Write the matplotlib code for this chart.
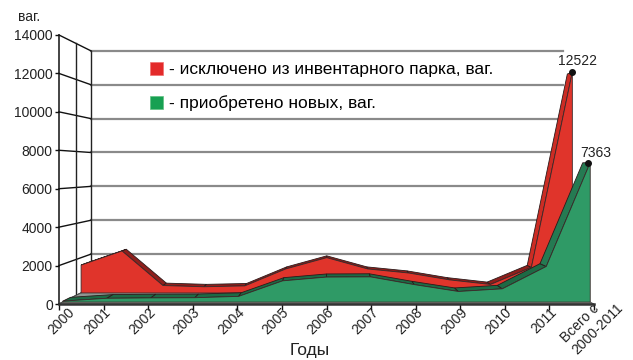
import matplotlib
matplotlib.use('Agg')
import matplotlib.pyplot as plt
from matplotlib.patches import Polygon, Patch
from matplotlib.transforms import ScaledTranslation
import numpy as np

plt.rcParams['font.family'] = ['Liberation Sans', 'DejaVu Sans']

# ---------------- data ----------------
categories = ['2000', '2001', '2002', '2003', '2004', '2005', '2006',
              '2007', '2008', '2009', '2010', '2011', 'Всего с\n2000-2011']
excluded = [1580, 2380, 420, 350, 400, 1360, 2000, 1360, 1130, 740, 480, 1450, 12522]
acquired = [50, 200, 220, 230, 300, 1120, 1320, 1330, 920, 560, 700, 1880, 7363]
y_ticks = [0, 2000, 4000, 6000, 8000, 10000, 12000, 14000]
legend_labels = ['- исключено из инвентарного парка, ваг.', '- приобретено новых, ваг.']
unit_label = 'ваг.'
x_label = 'Годы'

# ---------------- style ----------------
RED_FACE, RED_TOP, RED_SIDE = '#e0342b', '#8e1f1c', '#cc2c24'
GREEN_FACE, GREEN_TOP, GREEN_SIDE = '#2f9a66', '#1d6a45', '#257a52'
LEG_RED, LEG_GREEN = '#e32a2a', '#17a052'

# pseudo-3D perspective (depth d: 0 = front, 1 = back wall)
VP_X, VP_Y = 6.06, 7030.0
SHRINK = 0.1185


def proj(i, v, d):
    k = 1.0 - SHRINK * d
    return VP_X + (np.asarray(i, float) - VP_X) * k, VP_Y + (np.asarray(v, float) - VP_Y) * k


W, H = 633, 360
fig = plt.figure(figsize=(W / 100, H / 100), dpi=100)
ax = fig.add_axes([59 / W, 56 / H, 535 / W, 269 / H])
n = len(categories)
ax.set_xlim(0, n - 1)
ax.set_ylim(0, y_ticks[-1])
ax.patch.set_alpha(0)
for s in ('top', 'right'):
    ax.spines[s].set_visible(False)
ax.spines['left'].set_color('#111111')
ax.spines['left'].set_linewidth(1.1)
ax.spines['bottom'].set_color('#333333')
ax.spines['bottom'].set_linewidth(1.8)
ax.spines['left'].set_zorder(20)
ax.spines['bottom'].set_zorder(20)

# back wall grid
for v in y_ticks:
    x0, y0 = proj(0, v, 1)
    x1, y1 = proj(n - 1, v, 1)
    ax.plot([x0, x1], [y0, y1], color='#8a8a8a', lw=1.6, zorder=1, clip_on=False)
    fx, fy = proj(0, v, 0)
    ax.plot([fx, x0], [fy, y0], color='#111111', lw=1.0, zorder=2, clip_on=False)
for dd in (0.53, 1.0):
    x0, y0 = proj(0, 0, dd)
    x1, y1 = proj(0, y_ticks[-1], dd)
    ax.plot([x0, x1], [y0, y1], color='#222222', lw=1.0, zorder=2, clip_on=False)

# floor
corners = [proj(0, 0, 0), proj(n - 1, 0, 0), proj(n - 1, 0, 1), proj(0, 0, 1)]
ax.add_patch(Polygon([(float(a), float(b)) for a, b in corners], closed=True,
                     facecolor='#8f9691', edgecolor='#555555', lw=0.6, zorder=3, clip_on=False))

X_PX = 535 / (n - 1)
Y_PX = 269 / y_ticks[-1]


def draw_ribbon(values, d_front, d_back, face, top, side, z):
    idx = np.arange(len(values))
    vals = np.asarray(values, float)
    fx, fy = proj(idx, vals, d_front)
    bx, by = proj(idx, vals, d_back)
    for k in range(len(vals) - 1):
        quad = [(fx[k], fy[k]), (fx[k + 1], fy[k + 1]), (bx[k + 1], by[k + 1]), (bx[k], by[k])]
        steep = abs((fy[k + 1] - fy[k]) * Y_PX) > 2.0 * abs((fx[k + 1] - fx[k]) * X_PX)
        ax.add_patch(Polygon(quad, closed=True, facecolor=side if steep else top,
                             edgecolor='#2a1a1a', lw=0.6, zorder=z, clip_on=False))
    zx, zy = proj(idx, np.zeros(len(vals)), d_front)
    poly = list(zip(fx, fy)) + list(zip(zx[::-1], zy[::-1]))
    ax.add_patch(Polygon(poly, closed=True, facecolor=face, edgecolor='#3a2a2a',
                         lw=0.6, zorder=z + 0.5, clip_on=False))
    return fx, fy, bx, by


rfx, rfy, rbx, rby = draw_ribbon(excluded, 0.69, 0.85, RED_FACE, RED_TOP, RED_SIDE, 5)
gfx, gfy, gbx, gby = draw_ribbon(acquired, 0.12, 0.36, GREEN_FACE, GREEN_TOP, GREEN_SIDE, 8)

# peak markers and labels
ax.plot([rfx[-1]], [rfy[-1]], 'o', color='#111111', ms=4, zorder=12, clip_on=False)
ax.plot([gfx[-1] - 0.05], [gfy[-1]], 'o', color='#111111', ms=4, zorder=12, clip_on=False)
ax.annotate(str(excluded[-1]), (rfx[-1], rfy[-1]), xytext=(4, 3), textcoords='offset points',
            ha='center', va='bottom', fontsize=10, color='#222222', zorder=13, annotation_clip=False)
ax.annotate(str(acquired[-1]), (gfx[-1], gfy[-1]), xytext=(4, 2), textcoords='offset points',
            ha='center', va='bottom', fontsize=10, color='#222222', zorder=13, annotation_clip=False)

# ticks
ax.set_yticks(y_ticks)
ax.set_yticklabels([str(v) for v in y_ticks], fontsize=10, color='#222222')
ax.tick_params(axis='y', length=3, width=1, pad=1.5, color='#111111')
ax.set_xticks(np.arange(n))
ax.set_xticklabels(categories, fontsize=10, color='#222222', rotation=45,
                   ha='right', va='center', rotation_mode='anchor', multialignment='left')
ax.tick_params(axis='x', length=4, width=1, pad=1, color='#111111')
shift = ScaledTranslation(5 / 100, 1 / 100, fig.dpi_scale_trans)
for k, lab in enumerate(ax.get_xticklabels()):
    if k == 0:
        extra = ScaledTranslation(8 / 100, 0, fig.dpi_scale_trans)
    elif k == n - 1:
        extra = ScaledTranslation(16 / 100, 10 / 100, fig.dpi_scale_trans)
    else:
        extra = ScaledTranslation(0, 0, fig.dpi_scale_trans)
    lab.set_transform(lab.get_transform() + shift + extra)

fig.text(310 / W, 1 - 350 / H, x_label, fontsize=12.5, color='#222222', va='center', ha='center')
fig.text(18 / W, 1 - 17 / H, unit_label, fontsize=10, color='#222222', va='center', ha='left')

handles = [Patch(facecolor=LEG_RED, edgecolor='#f07070', lw=0.5),
           Patch(facecolor=LEG_GREEN, edgecolor='#60c080', lw=0.5)]
fig.legend(handles, legend_labels, loc='upper left', bbox_to_anchor=(150 / W, 1 - 62 / H),
           frameon=False, fontsize=12.5, handlelength=0.75, handleheight=0.75,
           handletextpad=0.35, labelspacing=1.05, borderpad=0, borderaxespad=0)

fig.savefig('out.png', dpi=100)
